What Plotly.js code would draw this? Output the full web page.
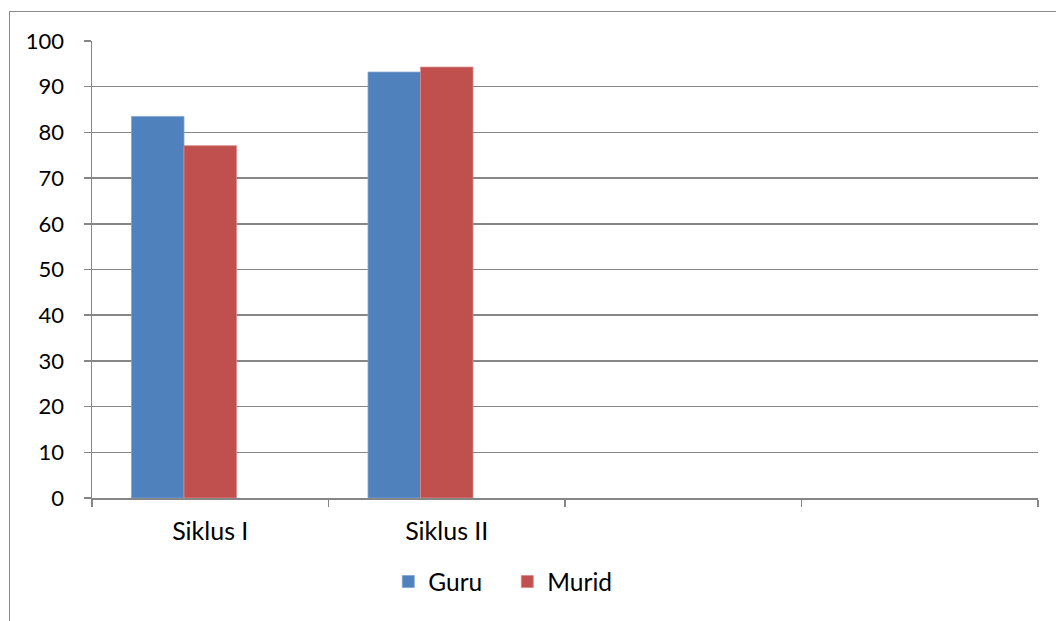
<!DOCTYPE html>
<html>
<head>
<meta charset="utf-8">
<script src="https://cdn.plot.ly/plotly-3.0.1.min.js"></script>
<style>
html,body{margin:0;padding:0;background:#fff;overflow:hidden;}
#frame{position:absolute;left:9px;top:11px;width:1200px;height:800px;border:1.5px solid #8a8a8a;box-sizing:border-box;}
#chart{position:absolute;left:0;top:0;width:1056px;height:621px;}
</style>
</head>
<body>
<div id="frame"></div>
<div id="chart"></div>
<script>
var categories = ["Siklus I", "Siklus II", " ", "  "];
var guru = [83.5, 93.2, null, null];
var murid = [77.1, 94.3, null, null];
var seriesNames = ["Guru", "Murid"];
var yTicks = [0, 10, 20, 30, 40, 50, 60, 70, 80, 90, 100];

var font = "Lato, 'Open Sans', sans-serif";
var bw = 0.222;
var traces = [
  {type: "bar", name: seriesNames[0], x: categories, y: guru,
   width: bw, offset: -1.5 * bw,
   marker: {color: "#4F81BD", line: {color: "#7fa3d1", width: 0.8}}},
  {type: "bar", name: seriesNames[1], x: categories, y: murid,
   width: bw, offset: -0.5 * bw,
   marker: {color: "#C0504D", line: {color: "#d98a88", width: 0.8}}}
];
var layout = {
  width: 1056, height: 621,
  margin: {l: 92, r: 18, t: 41, b: 123},
  paper_bgcolor: "rgba(0,0,0,0)",
  plot_bgcolor: "rgba(0,0,0,0)",
  barmode: "overlay",
  showlegend: true,
  font: {family: font, size: 20, color: "#000"},
  xaxis: {
    type: "category",
    range: [-0.5, 3.5],
    tickson: "boundaries",
    ticks: "outside", ticklen: 7, tickcolor: "#868686", tickwidth: 1.5,
    showline: true, linecolor: "#868686", linewidth: 1.5,
    showgrid: false, zeroline: false,
    tickfont: {family: font, size: 25, color: "#000"},
    ticklabelstandoff: 10,
    fixedrange: true
  },
  yaxis: {
    range: [0, 100],
    tickvals: yTicks,
    ticks: "outside", ticklen: 7, tickcolor: "#868686", tickwidth: 1.5,
    showline: true, linecolor: "#868686", linewidth: 1.5,
    showgrid: true, gridcolor: "#868686", gridwidth: 1.5,
    zeroline: false,
    tickfont: {family: font, size: 22, color: "#000"},
    ticklabelstandoff: 15,
    fixedrange: true
  },
  legend: {
    orientation: "h", x: 0.439, xanchor: "center", y: -0.183, yanchor: "middle",
    font: {family: font, size: 24.5, color: "#000"},
    itemwidth: 30, tracegroupgap: 0, entrywidth: 74
  }
};
Plotly.newPlot("chart", traces, layout, {displayModeBar: false, staticPlot: true});
</script>
</body>
</html>
